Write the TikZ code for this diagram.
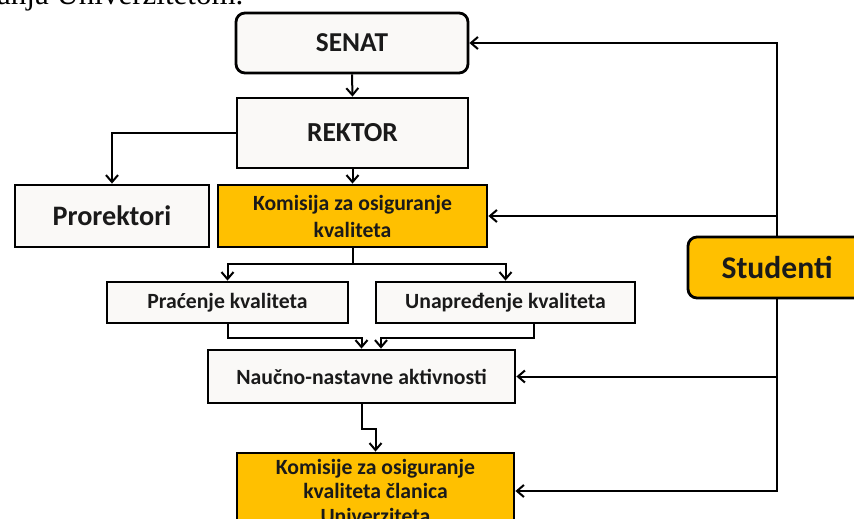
\documentclass[tikz,border=0pt]{standalone}
\usepackage{fontspec}
\setmainfont{Carlito}
\newfontfamily\serifx{Liberation Serif}
\usetikzlibrary{arrows.meta}
\definecolor{gold}{HTML}{FFC000}
\definecolor{paper}{HTML}{FAF9F7}
\definecolor{ink}{HTML}{1A1A1A}
\begin{document}
\begin{tikzpicture}[x=1pt,y=-1pt,
  box/.style={draw=black,line width=2.8pt,fill=paper,inner sep=0pt,align=center,text=ink,
    font=\bfseries\fontsize{21.7}{27}\selectfont},
  gbox/.style={box,fill=gold},
  conn/.style={line width=2pt,-{Straight Barb[length=7pt,width=12pt,line width=2pt]}},
]
\useasboundingbox (0,0) rectangle (854,519);
\clip (0,0) rectangle (854,519);
\fill[white] (0,0) rectangle (854,519);

\node[anchor=base west,inner sep=0pt,font=\serifx\fontsize{31}{31}\selectfont] (hdr) at (-3,5) {anja Univerzitetom.};

\node[box,rounded corners=9pt,minimum width=232pt,minimum height=60pt,font=\bfseries\fontsize{27.3}{30}\selectfont] (senat) at (352,43) {SENAT};
\node[box,minimum width=231pt,minimum height=70pt,font=\bfseries\fontsize{27.5}{30}\selectfont] (rektor) at (352.5,133) {REKTOR};
\node[box,minimum width=194pt,minimum height=62pt,font=\bfseries\fontsize{28.2}{30}\selectfont] (pro) at (112,216) {Prorektori};
\node[gbox,minimum width=269pt,minimum height=62pt] (kom) at (352.5,216) {Komisija za osiguranje\\kvaliteta};
\node[box,minimum width=241pt,minimum height=41pt] (prac) at (227.5,302.5) {Praćenje kvaliteta};
\node[box,minimum width=259pt,minimum height=41pt] (unap) at (505.5,302.5) {Unapređenje kvaliteta};
\node[box,minimum width=307pt,minimum height=53pt] (nauc) at (361.5,376.5) {Naučno-nastavne aktivnosti};
\node[gbox,minimum width=277pt,minimum height=76pt,font=\bfseries\fontsize{21.7}{24.5}\selectfont] (kc) at (375.5,491) {Komisije za osiguranje\\kvaliteta članica\\Univerziteta};
\node[gbox,rounded corners=9pt,minimum width=178pt,minimum height=61pt,font=\bfseries\fontsize{31.6}{34}\selectfont] (stud) at (777,267.5) {Studenti};

\draw[conn] (senat.south) -- (rektor.north);
\draw[conn] (rektor.west) -| (pro.north);
\draw[conn] (rektor.south) -- (kom.north);
\coordinate (b1) at ([yshift=-16pt]kom.south);
\draw[conn] (kom.south) -- (b1) -| (prac.north);
\draw[conn] (b1) -| (unap.north);
\draw[conn] (prac.south) -- ++(0,14) -| (nauc.north);
\draw[conn] ([xshift=28pt]unap.south) -- ++(0,14) -| ([xshift=19.5pt]nauc.north);
\draw[conn] (nauc.south) -- ++(0,25) -| (kc.north);

\draw[conn] (stud.north) |- (senat.east);
\draw[conn] (stud.north) |- (kom.east);
\draw[conn] (stud.south) |- (nauc.east);
\draw[conn] (stud.south) |- (kc.east);
\end{tikzpicture}
\end{document}
